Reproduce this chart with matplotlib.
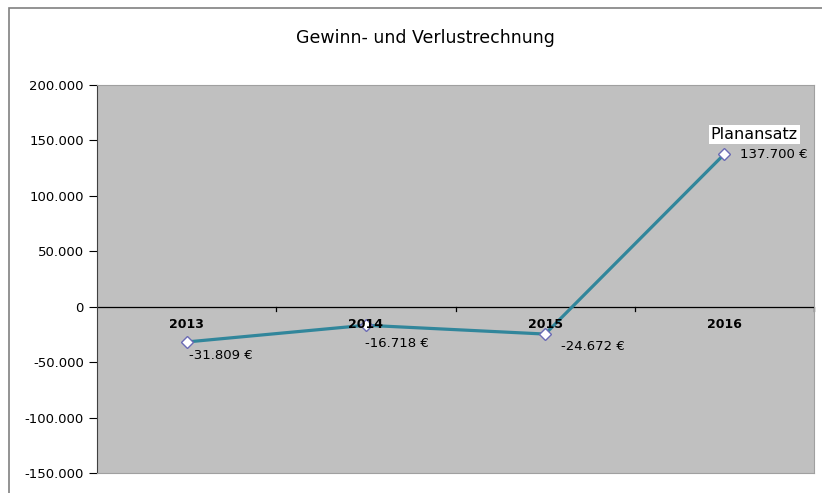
import matplotlib
matplotlib.use("Agg")
import matplotlib.pyplot as plt
from matplotlib.patches import Rectangle

years = ["2013", "2014", "2015", "2016"]
values = [-31809, -16718, -24672, 137700]
value_labels = ["-31.809 €", "-16.718 €", "-24.672 €", "137.700 €"]
yticks = [-150000, -100000, -50000, 0, 50000, 100000, 150000, 200000]
ytick_labels = ["-150.000", "-100.000", "-50.000", "0", "50.000", "100.000", "150.000", "200.000"]
title = "Gewinn- und Verlustrechnung"
note = "Planansatz"

plt.rcParams['font.family'] = ['DejaVu Sans']

W, H = 822, 493
fig = plt.figure(figsize=(W / 100, H / 100), dpi=100)
fig.patch.set_facecolor("white")

# outer chart frame
fig.add_artist(Rectangle((9 / W, -0.1), 1.2, (H - 8) / H + 0.1, transform=fig.transFigure,
                         fill=False, edgecolor="#808080", linewidth=1.2))

left, right, top, bottom = 97, 814, 85, 473
ax = fig.add_axes([left / W, 1 - bottom / H, (right - left) / W, (bottom - top) / H])
ax.set_facecolor("#C0C0C0")

x = list(range(len(years)))
ax.plot(x, values, color="#31869B", linewidth=2.3, zorder=3)
ax.plot(x, values, linestyle="none", marker="D", markersize=6.5,
        markerfacecolor="white", markeredgecolor="#6B6BB5", markeredgewidth=1.0, zorder=4)

ax.set_xlim(-0.5, len(years) - 0.5)
ax.set_ylim(yticks[0], yticks[-1])
ax.set_yticks(yticks)
ax.set_yticklabels(ytick_labels, fontsize=9.5)
ax.tick_params(axis="y", direction="out", length=6, width=0.8, pad=3.5, colors="black")

ax.set_xticks([])
# zero axis line and category boundary ticks
ax.axhline(0, color="black", linewidth=0.9, zorder=2)
for b in range(1, len(years) + 1):
    ax.plot([b - 0.5, b - 0.5], [0, -4000], color="black", linewidth=0.9, zorder=2, clip_on=False)

for i, yr in enumerate(years):
    ax.annotate(yr, (i, 0), xytext=(0, -13), textcoords="offset points",
                ha="center", va="center", fontsize=9, fontweight="bold", zorder=5)

label_offsets = [(1.4, -9.4), (-0.7, -13), (11.5, -8.6), (11.5, 0)]
for i, (v, lab) in enumerate(zip(values, value_labels)):
    ax.annotate(lab, (i, v), xytext=label_offsets[i], textcoords="offset points",
                ha="left", va="center", fontsize=9.5, zorder=5)

ax.annotate(note, (len(values) - 1, values[-1]), xytext=(-10, 14), textcoords="offset points",
            ha="left", va="center", fontsize=11.5, zorder=5,
            bbox=dict(boxstyle="square,pad=0.12", facecolor="white", edgecolor="none"))

for s in ["top", "right"]:
    ax.spines[s].set_color("#A0A0A0")
ax.spines["bottom"].set_color("#A0A0A0")
ax.spines["left"].set_color("#404040")

fig.text(425 / W, 1 - 38 / H, title, ha="center", va="center", fontsize=12.5)

fig.savefig("out.png", dpi=100)
